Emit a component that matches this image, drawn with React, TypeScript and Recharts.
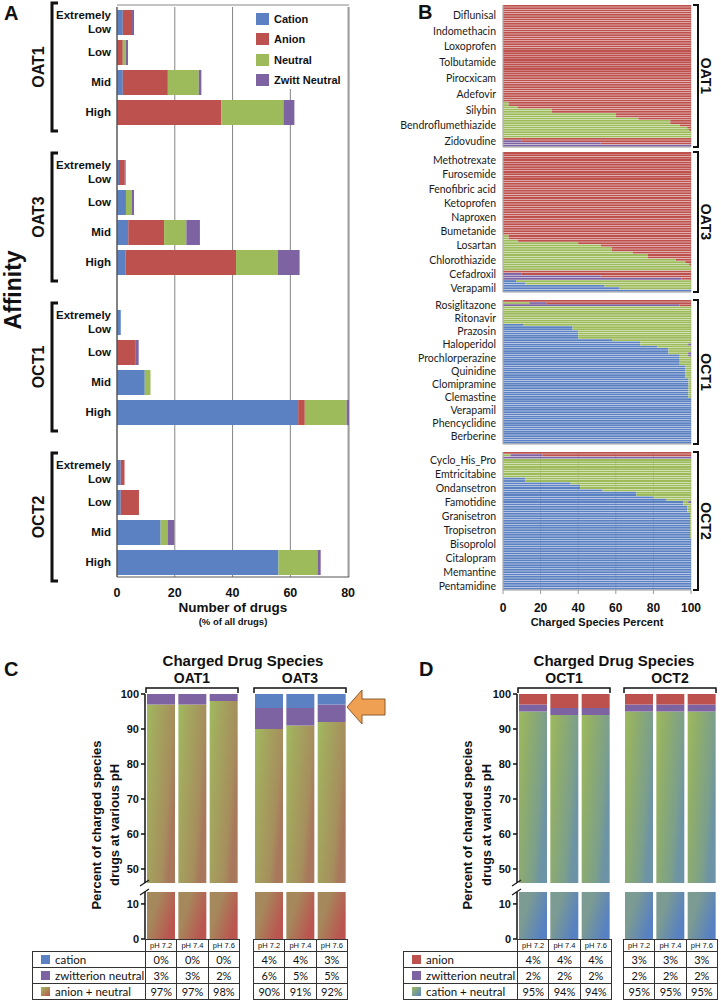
import React from "react";
import { BarChart, Bar, XAxis, YAxis, CartesianGrid } from "recharts";

const BLUE = "#5b81c2";
const RED = "#bd514e";
const GREEN = "#9dbb5b";
const PURPLE = "#7e63a2";
const INK = "#111";
const SANS = "'Liberation Sans', Arial, sans-serif";
const LATO = "Lato, 'Open Sans', sans-serif";

// ---------- A: number of drugs per affinity class
const transporters = ["OAT1", "OAT3", "OCT1", "OCT2"];
const affinityLevels = ["Extremely Low", "Low", "Mid", "High"];
// 16 values each: transporter x affinity, in the order above
const cationA = [2, 0, 2, 0, 0.7, 3.1, 3.9, 3, 1.3, 0, 9.6, 62.7, 1.3, 1.3, 15.1, 55.9];
const anionA = [3.2, 2, 15.6, 36.1, 2, 0, 12.4, 38.2, 0, 6.5, 0, 2.3, 1.3, 6.3, 0, 0];
const neutralA = [0, 1, 10.7, 21.5, 0, 2.1, 7.7, 14.4, 0, 0, 2, 14.5, 0, 0, 2.4, 13.5];
const zwittA = [0.7, 0.8, 0.9, 3.8, 0.3, 0.7, 4.7, 7.6, 0, 1, 0, 0.8, 0, 0, 2.3, 1.1];
const countTicks = [0, 20, 40, 60, 80];

// ---------- B: charged species percent per drug
// runs of identical drugs: [count, cation, neutral, zwitt, anion]
type Run = [number, number, number, number, number];
const OAT1_RUNS: Run[] = [
  [43, 0, 0, 0, 100],
  [2, 0, 3, 0, 97], [1, 0, 8, 0, 92], [2, 0, 26, 0, 74], [2, 0, 60, 0, 40],
  [1, 0, 72, 0, 28], [2, 0, 89, 0, 11], [1, 0, 94, 0, 6], [1, 0, 98, 0, 2],
  [1, 0, 99, 0, 1], [3, 0, 100, 0, 0],
  [1, 0, 0, 0, 100], [1, 0, 0, 10, 90], [1, 0, 0, 52, 48], [1, 0, 0, 100, 0],
];
const OAT3_RUNS: Run[] = [
  [35, 0, 0, 0, 100],
  [2, 0, 3, 0, 97], [1, 0, 8, 0, 92], [1, 0, 40, 0, 60], [1, 0, 52, 0, 48],
  [2, 0, 58, 0, 42], [1, 0, 69, 0, 31], [2, 0, 77, 0, 23], [1, 0, 92, 0, 8],
  [1, 0, 97, 0, 3], [1, 0, 99, 0, 1], [2, 0, 100, 0, 0],
  [1, 0, 0, 0, 100], [1, 0, 0, 10, 90], [1, 0, 0, 52, 48], [1, 0, 0, 95, 5],
  [1, 7, 93, 0, 0], [1, 12, 88, 0, 0], [1, 54, 46, 0, 0], [1, 62, 38, 0, 0], [1, 100, 0, 0, 0],
];
const OCT1_RUNS: Run[] = [
  [1, 0, 0, 0, 100], [1, 0, 14, 9, 77], [1, 0, 0, 94, 6],
  [8, 0, 100, 0, 0],
  [1, 11, 89, 0, 0], [2, 37, 63, 0, 0], [4, 40, 60, 0, 0], [1, 58, 42, 0, 0],
  [1, 73, 27, 0, 0], [1, 73, 25.5, 1.5, 0], [1, 82, 18, 0, 0],
  [2, 88, 12, 0, 0], [1, 88, 10.5, 1.5, 0], [1, 94, 4.5, 1.5, 0], [4, 94, 6, 0, 0],
  [6, 97, 3, 0, 0], [9, 98.6, 1.4, 0, 0], [21, 100, 0, 0, 0],
];
const OCT2_RUNS: Run[] = [
  [1, 0, 0, 0, 100], [1, 0, 4, 17, 79], [1, 0, 0, 100, 0],
  [8, 0, 100, 0, 0],
  [2, 12, 88, 0, 0], [1, 36, 64, 0, 0], [2, 41, 59, 0, 0], [1, 53, 47, 0, 0],
  [2, 71, 29, 0, 0], [1, 80, 20, 0, 0], [1, 87, 13, 0, 0], [1, 96, 2.5, 1.5, 0],
  [1, 96, 4, 0, 0], [3, 98, 2, 0, 0], [11, 99.5, 0.5, 0, 0], [22, 100, 0, 0, 0],
];
const OAT1_NAMES = ["Diflunisal", "Indomethacin", "Loxoprofen", "Tolbutamide", "Pirocxicam", "Adefovir", "Silybin", "Bendroflumethiazide", "Zidovudine"];
const OAT3_NAMES = ["Methotrexate", "Furosemide", "Fenofibric acid", "Ketoprofen", "Naproxen", "Bumetanide", "Losartan", "Chlorothiazide", "Cefadroxil", "Verapamil"];
const OCT1_NAMES = ["Rosiglitazone", "Ritonavir", "Prazosin", "Haloperidol", "Prochlorperazine", "Quinidine", "Clomipramine", "Clemastine", "Verapamil", "Phencyclidine", "Berberine"];
const OCT2_NAMES = ["Cyclo_His_Pro", "Emtricitabine", "Ondansetron", "Famotidine", "Granisetron", "Tropisetron", "Bisoprolol", "Citalopram", "Memantine", "Pentamidine"];
const percentTicks = [0, 20, 40, 60, 80, 100];

// ---------- C / D: charged drug species at various pH
const phLabels = ["pH 7.2", "pH 7.4", "pH 7.6"];
const oat1Cation = [0, 0, 0];
const oat1Zwitt = [3, 3, 2];
const oat1AnionNeutral = [97, 97, 98];
const oat3Cation = [4, 4, 3];
const oat3Zwitt = [6, 5, 5];
const oat3AnionNeutral = [90, 91, 92];
const oct1Anion = [4, 4, 4];
const oct1Zwitt = [2, 2, 2];
const oct1CationNeutral = [95, 94, 94];
const oct2Anion = [3, 3, 3];
const oct2Zwitt = [2, 2, 2];
const oct2CationNeutral = [95, 95, 95];

// ---------- layout
const A_TOP = 7;
const A_ROW = 30;
const B_LAYOUT = [
  { top: 5, height: 142, first: 4, step: 7 },
  { top: 152, height: 140, first: 3, step: 6 },
  { top: 300, height: 144, first: 2, step: 6 },
  { top: 452, height: 138, first: 3, step: 6 },
];
const PH_W = 94;
const UP_TOP = 694;
const UP_H = 189;
const LO_TOP = 892;
const LO_H = 47;
const TABLE_TOP = 939;

// gradient stops for the mixed-species bars (upper / lower part of the broken axis)
const C_UP_STOPS = [[0, "#9fbb5e"], [0.25, "#a3aa5e"], [0.8, "#a68e5d"], [1, "#a8775c"]];
const C_LO_STOPS = [[0.35, "#a5895c"], [1, "#ba5550"]];
const D_UP_STOPS = [[0, "#9dba5e"], [0.25, "#93b066"], [0.8, "#7b9f8c"], [1, "#6c93a6"]];
const D_LO_STOPS = [[0.35, "#7c9b92"], [1, "#5781c2"]];

const aRows: any[] = [];
transporters.forEach((t, g) => {
  if (g > 0) aRows.push({ id: `gap${g}` });
  affinityLevels.forEach((lvl, i) => {
    const k = g * 4 + i;
    aRows.push({ id: `${t}|${lvl}`, cation: cationA[k], anion: anionA[k], neutral: neutralA[k], zwitt: zwittA[k] });
  });
});

function expand(runs: Run[], prefix: string) {
  const rows: any[] = [];
  runs.forEach(([n, c, ne, z, a]) => {
    for (let i = 0; i < n; i++) rows.push({ id: `${prefix}${rows.length}`, cation: c, neutral: ne, zwitt: z, anion: a });
  });
  return rows;
}

const bSubs = [
  { name: "OAT1", rows: expand(OAT1_RUNS, "a1-"), names: OAT1_NAMES },
  { name: "OAT3", rows: expand(OAT3_RUNS, "a3-"), names: OAT3_NAMES },
  { name: "OCT1", rows: expand(OCT1_RUNS, "c1-"), names: OCT1_NAMES },
  { name: "OCT2", rows: expand(OCT2_RUNS, "c2-"), names: OCT2_NAMES },
];

function AffinityTick({ x, y, payload }: any) {
  const id = String(payload.value);
  if (!id.includes("|")) return <g />;
  const label = id.split("|")[1];
  const common = { textAnchor: "end" as const, fontSize: 11.5, fontWeight: 700, fontFamily: SANS, fill: INK };
  if (label === "Extremely Low")
    return (
      <text {...common} x={x} y={y}>
        <tspan x={x} dy={-3}>Extremely</tspan>
        <tspan x={x} dy={14}>Low</tspan>
      </text>
    );
  return <text {...common} x={x} y={y + 4}>{label}</text>;
}

function PanelA() {
  return (
    <div style={{ position: "absolute", left: 0, top: 0 }}>
      <BarChart layout="vertical" width={360} height={610} data={aRows} margin={{ top: A_TOP, right: 11, bottom: 3, left: 0 }} barSize={25}>
        <CartesianGrid horizontal={false} stroke="#858585" />
        <XAxis type="number" domain={[0, 80]} ticks={countTicks} height={30} tickLine={false} tickMargin={5}
          axisLine={{ stroke: "#555" }} tick={{ fontSize: 12.5, fontWeight: 700, fill: INK, fontFamily: SANS }} />
        <YAxis type="category" dataKey="id" width={117} interval={0} tickLine={false} tickSize={0} tickMargin={6}
          axisLine={{ stroke: "#444" }} tick={<AffinityTick />} />
        <Bar dataKey="cation" stackId="a" fill={BLUE} isAnimationActive={false} />
        <Bar dataKey="anion" stackId="a" fill={RED} isAnimationActive={false} />
        <Bar dataKey="neutral" stackId="a" fill={GREEN} isAnimationActive={false} />
        <Bar dataKey="zwitt" stackId="a" fill={PURPLE} isAnimationActive={false} />
      </BarChart>
    </div>
  );
}

function LegendA() {
  const items = [["Cation", BLUE], ["Anion", RED], ["Neutral", GREEN], ["Zwitt Neutral", PURPLE]];
  return (
    <div style={{ position: "absolute", left: 251, top: 6, width: 96, height: 83, background: "#fff" }}>
      {items.map(([name, color], i) => (
        <div key={name} style={{ position: "absolute", left: 5, top: 6 + i * 20.5, display: "flex", alignItems: "center", height: 13 }}>
          <div style={{ width: 13, height: 12, background: color, marginRight: 5 }} />
          <span style={{ fontFamily: SANS, fontWeight: 700, fontSize: 11, color: INK, whiteSpace: "nowrap" }}>{name}</span>
        </div>
      ))}
    </div>
  );
}

function BSub({ sub, layout, last }: any) {
  const labelOf: Record<string, string> = {};
  sub.names.forEach((n: string, i: number) => {
    labelOf[sub.rows[layout.first + i * layout.step].id] = n;
  });
  const axisH = last ? 24 : 5;
  const band = layout.height / sub.rows.length;
  return (
    <div style={{ position: "absolute", left: 360, top: layout.top - 2 }}>
      <BarChart layout="vertical" width={361} height={layout.height + 2 + axisH} data={sub.rows}
        margin={{ top: 2, right: 30, bottom: 0, left: 0 }} barCategoryGap={0} barSize={band * 0.8}>
        <CartesianGrid horizontal={false} stroke="#cccccc" />
        <XAxis type="number" domain={[0, 100]} ticks={percentTicks} height={axisH} stroke="#9a9a9a" tickSize={4}
          tickMargin={9} tick={last ? { fontSize: 12, fontWeight: 700, fill: INK, fontFamily: SANS } : false} />
        <YAxis type="category" dataKey="id" width={143} interval={0} tickLine={false} tickSize={3} tickMargin={4}
          axisLine={{ stroke: "#b5b5b5" }} tickFormatter={(v: string) => labelOf[v] ?? ""}
          tick={{ fontSize: 10.5, fill: "#1a1a1a", fontFamily: LATO }} />
        <Bar dataKey="cation" stackId="s" fill={BLUE} isAnimationActive={false} />
        <Bar dataKey="neutral" stackId="s" fill={GREEN} isAnimationActive={false} />
        <Bar dataKey="zwitt" stackId="s" fill={PURPLE} isAnimationActive={false} />
        <Bar dataKey="anion" stackId="s" fill={RED} isAnimationActive={false} />
      </BarChart>
    </div>
  );
}

function PhChart({ rows, series, plotLeft, top, height, domain, ticks, axis, gradId, stops }: any) {
  const AX = 40;
  const M = 8;
  return (
    <div style={{ position: "absolute", left: axis ? plotLeft - AX : plotLeft, top: top - M }}>
      <BarChart width={(axis ? AX : 0) + PH_W} height={height + 2 * M} data={rows}
        margin={{ top: M, right: 0, bottom: M, left: 0 }} barSize={28}>
        <defs>
          <linearGradient id={gradId} x1="0" y1="0" x2="1" y2="0.5">
            {stops.map(([o, c]: any) => <stop key={o} offset={o} stopColor={c} />)}
          </linearGradient>
        </defs>
        <XAxis dataKey="ph" hide />
        <YAxis type="number" hide={!axis} width={AX} domain={domain} ticks={ticks} allowDataOverflow interval={0}
          axisLine={{ stroke: INK, strokeWidth: 1.5 }} tickLine={{ stroke: INK, strokeWidth: 1.5 }} tickSize={4} tickMargin={2}
          tick={{ fontSize: 11, fontWeight: 700, fill: INK, fontFamily: SANS }} />
        {series.map((s: any) => (
          <Bar key={s.key} dataKey={s.key} stackId="p" fill={s.fill ?? `url(#${gradId})`} isAnimationActive={false} />
        ))}
      </BarChart>
    </div>
  );
}

function PhTable({ labelLeft, labelWidth, groupLefts, rows }: any) {
  const colW = PH_W / 3;
  const cell: React.CSSProperties = {
    position: "absolute", boxSizing: "border-box", border: "1px solid #333", display: "flex",
    alignItems: "center", justifyContent: "center", fontFamily: LATO, fontSize: 11, color: INK, background: "#fff",
  };
  const out: any[] = [];
  groupLefts.forEach((gl: number, g: number) => {
    phLabels.forEach((ph, i) => {
      out.push(<div key={`h${g}${i}`} style={{ ...cell, left: gl + i * colW, top: TABLE_TOP, width: colW + 1, height: 13, fontSize: 7.5, fontFamily: SANS }}>{ph}</div>);
    });
  });
  rows.forEach((r: any, ri: number) => {
    const top = TABLE_TOP + 12 + ri * 16;
    out.push(
      <div key={`l${ri}`} style={{ ...cell, left: labelLeft, top, width: labelWidth + 1, height: 17, justifyContent: "flex-start", paddingLeft: 8, fontSize: 11.5 }}>
        <div style={{ width: 9, height: 9, background: r.swatch, marginRight: 5 }} />
        <span style={{ whiteSpace: "nowrap" }}>{r.label}</span>
      </div>
    );
    r.values.forEach((v: number, i: number) => {
      const g = Math.floor(i / 3);
      out.push(<div key={`v${ri}${i}`} style={{ ...cell, left: groupLefts[g] + (i % 3) * colW, top, width: colW + 1, height: 17 }}>{`${v}%`}</div>);
    });
  });
  return <>{out}</>;
}

function PhPanel({ groups, series, upStops, loStops, tableRows, labelLeft, labelWidth, prefix }: any) {
  return (
    <>
      {groups.map((g: any, i: number) => (
        <React.Fragment key={g.name}>
          <PhChart rows={g.rows} series={series} plotLeft={g.left} top={UP_TOP} height={UP_H} domain={[46, 100]}
            ticks={[50, 60, 70, 80, 90, 100]} axis={i === 0} gradId={`${prefix}u${i}`} stops={upStops} />
          <PhChart rows={g.rows} series={series} plotLeft={g.left} top={LO_TOP} height={LO_H} domain={[0, 13.4]}
            ticks={[0, 10]} axis={i === 0} gradId={`${prefix}l${i}`} stops={loStops} />
        </React.Fragment>
      ))}
      <PhTable labelLeft={labelLeft} labelWidth={labelWidth} groupLefts={groups.map((g: any) => g.left)} rows={tableRows} />
    </>
  );
}

const mkRows = (keys: string[], arrays: number[][]) =>
  phLabels.map((ph, i) => {
    const r: any = { ph };
    keys.forEach((k, j) => (r[k] = arrays[j][i]));
    return r;
  });

const cGroups = [
  { name: "OAT1", left: 145, rows: mkRows(["anionNeutral", "zwitt", "cation"], [oat1AnionNeutral, oat1Zwitt, oat1Cation]) },
  { name: "OAT3", left: 253, rows: mkRows(["anionNeutral", "zwitt", "cation"], [oat3AnionNeutral, oat3Zwitt, oat3Cation]) },
];
const dGroups = [
  { name: "OCT1", left: 517, rows: mkRows(["cationNeutral", "zwitt", "anion"], [oct1CationNeutral, oct1Zwitt, oct1Anion]) },
  { name: "OCT2", left: 623, rows: mkRows(["cationNeutral", "zwitt", "anion"], [oct2CationNeutral, oct2Zwitt, oct2Anion]) },
];

function Overlay() {
  const bold = { fontFamily: SANS, fontWeight: 700, fill: INK };
  return (
    <svg width={721} height={1000} style={{ position: "absolute", left: 0, top: 0, pointerEvents: "none" }}>
      {/* panel letters */}
      <text x={4} y={20} fontSize={20} {...bold}>A</text>
      <text x={418} y={19} fontSize={20} {...bold}>B</text>
      <text x={4} y={676} fontSize={20} {...bold}>C</text>
      <text x={419} y={676} fontSize={20} {...bold}>D</text>

      {/* A decorations */}
      <line x1={117} y1={5} x2={349} y2={5} stroke="#888" />
      {transporters.map((t, g) => {
        const c0 = A_TOP + (g * 5 + 0.5) * A_ROW;
        const c1 = c0 + 3 * A_ROW;
        const mid = (c0 + c1) / 2;
        return (
          <g key={t}>
            <path d={`M58 ${c0 - 19} L52 ${c0 - 19} L52 ${c1 + 19} L58 ${c1 + 19}`} stroke={INK} strokeWidth={3} fill="none" />
            <text x={44} y={mid} fontSize={16} textAnchor="middle" transform={`rotate(-90 44 ${mid})`} {...bold}>{t}</text>
          </g>
        );
      })}
      <text x={21} y={290} fontSize={23} textAnchor="middle" transform="rotate(-90 21 290)" {...bold}>Affinity</text>
      <text x={233} y={612} fontSize={13.5} textAnchor="middle" {...bold}>Number of drugs</text>
      <text x={233} y={625} fontSize={9.5} textAnchor="middle" {...bold}>(% of all drugs)</text>

      {/* B decorations */}
      {bSubs.map((s, i) => {
        const l = B_LAYOUT[i];
        const mid = l.top + l.height / 2;
        return (
          <g key={s.name}>
            <path d={`M693 ${l.top} L698 ${l.top} L698 ${l.top + l.height} L693 ${l.top + l.height}`} stroke={INK} strokeWidth={2} fill="none" />
            <text x={701} y={mid} fontSize={14} textAnchor="middle" transform={`rotate(90 701 ${mid})`} {...bold}>{s.name}</text>
          </g>
        );
      })}
      <text x={597} y={626} fontSize={11} textAnchor="middle" {...bold}>Charged Species Percent</text>

      {/* C / D titles, group brackets, axis titles, break marks */}
      {[{ groups: cGroups, cx: 243, ax: 145, t1: 101, t2: 119 }, { groups: dGroups, cx: 614, ax: 517, t1: 472, t2: 491 }].map((p, k) => (
        <g key={k}>
          <text x={p.cx} y={666} fontSize={15} textAnchor="middle" {...bold}>Charged Drug Species</text>
          {p.groups.map((g: any) => (
            <g key={g.name}>
              <text x={g.left + PH_W / 2} y={683} fontSize={14} textAnchor="middle" {...bold}>{g.name}</text>
              <path d={`M${g.left + 1} 693 L${g.left + 1} 688 L${g.left + PH_W - 1} 688 L${g.left + PH_W - 1} 693`} stroke={INK} strokeWidth={1.5} fill="none" />
            </g>
          ))}
          <text x={p.t1} y={825} fontSize={13} textAnchor="middle" transform={`rotate(-90 ${p.t1} 825)`} {...bold}>Percent of charged species</text>
          <text x={p.t2} y={825} fontSize={13} textAnchor="middle" transform={`rotate(-90 ${p.t2} 825)`} {...bold}>drugs at various pH</text>
          <line x1={p.ax - 5} y1={886} x2={p.ax + 4} y2={880} stroke={INK} strokeWidth={1.2} />
          <line x1={p.ax - 5} y1={895} x2={p.ax + 4} y2={889} stroke={INK} strokeWidth={1.2} />
        </g>
      ))}

      {/* arrow pointing at OAT3 */}
      <polygon points="347,707 362,690 362,699 385,699 385,715 362,715 362,724" fill="#f0a052" stroke="#8a5a2c" strokeWidth={1} />
    </svg>
  );
}

export default function App() {
  const cTable = [
    { label: "cation", swatch: BLUE, values: [...oat1Cation, ...oat3Cation] },
    { label: "zwitterion neutral", swatch: PURPLE, values: [...oat1Zwitt, ...oat3Zwitt] },
    { label: "anion + neutral", swatch: "linear-gradient(135deg, #9fbb5e, #ba5550)", values: [...oat1AnionNeutral, ...oat3AnionNeutral] },
  ];
  const dTable = [
    { label: "anion", swatch: RED, values: [...oct1Anion, ...oct2Anion] },
    { label: "zwitterion neutral", swatch: PURPLE, values: [...oct1Zwitt, ...oct2Zwitt] },
    { label: "cation + neutral", swatch: "linear-gradient(135deg, #9dba5e, #5781c2)", values: [...oct1CationNeutral, ...oct2CationNeutral] },
  ];
  return (
    <div style={{ position: "absolute", left: 0, top: 0, width: 721, height: 1000, background: "#fff", overflow: "hidden" }}>
      <PanelA />
      <LegendA />
      {bSubs.map((s, i) => (
        <BSub key={s.name} sub={s} layout={B_LAYOUT[i]} last={i === bSubs.length - 1} />
      ))}
      <PhPanel groups={cGroups} prefix="c"
        series={[{ key: "anionNeutral" }, { key: "zwitt", fill: PURPLE }, { key: "cation", fill: BLUE }]}
        upStops={C_UP_STOPS} loStops={C_LO_STOPS} tableRows={cTable} labelLeft={32} labelWidth={113} />
      <PhPanel groups={dGroups} prefix="d"
        series={[{ key: "cationNeutral" }, { key: "zwitt", fill: PURPLE }, { key: "anion", fill: RED }]}
        upStops={D_UP_STOPS} loStops={D_LO_STOPS} tableRows={dTable} labelLeft={403} labelWidth={114} />
      <Overlay />
    </div>
  );
}
